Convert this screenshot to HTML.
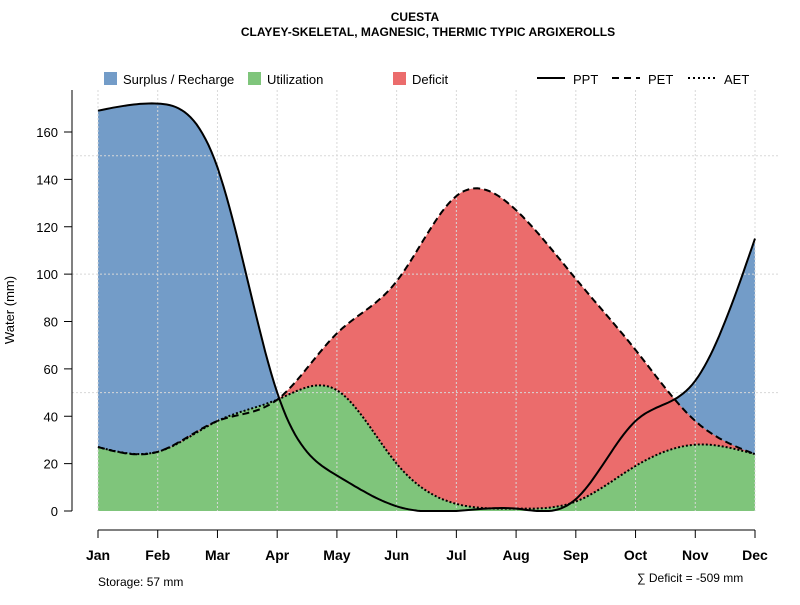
<!DOCTYPE html>
<html><head><meta charset="utf-8"><style>
body{margin:0;background:#fff;font-family:"Liberation Sans",sans-serif;}
svg text{font-family:"Liberation Sans",sans-serif;}
</style></head><body>
<svg id="c" width="800" height="600" xmlns="http://www.w3.org/2000/svg">
<text x="415" y="21" text-anchor="middle" font-size="12" font-weight="bold">CUESTA</text>
<text x="428" y="36" text-anchor="middle" font-size="12" font-weight="bold">CLAYEY-SKELETAL, MAGNESIC, THERMIC TYPIC ARGIXEROLLS</text>
<g id="plot"></g>
<g>
<rect x="104" y="72" width="13" height="13" fill="#739cc8"/>
<text x="123" y="84" font-size="13">Surplus / Recharge</text>
<rect x="248" y="72" width="13" height="13" fill="#7fc57b"/>
<text x="267" y="84" font-size="13">Utilization</text>
<rect x="393" y="72" width="13" height="13" fill="#eb6c6c"/>
<text x="412" y="84" font-size="13">Deficit</text>
<line x1="537" y1="78" x2="565" y2="78" stroke="#000" stroke-width="2"/>
<text x="573" y="84" font-size="13">PPT</text>
<line x1="612" y1="78" x2="640" y2="78" stroke="#000" stroke-width="2" stroke-dasharray="7,5"/>
<text x="648" y="84" font-size="13">PET</text>
<line x1="688" y1="78" x2="716" y2="78" stroke="#000" stroke-width="2" stroke-dasharray="2,3"/>
<text x="724" y="84" font-size="13">AET</text>
</g>
<text x="98" y="586" font-size="12">Storage: 57 mm</text>
<text x="637" y="582" font-size="12">∑ Deficit = -509 mm</text>
</svg>
<script>
const months=["Jan","Feb","Mar","Apr","May","Jun","Jul","Aug","Sep","Oct","Nov","Dec"];
const ppt=[169,172,145,50,15,2,0,1,5,38,55,115];
const pet=[27,25,38,47,75,97,133,127,98,68,38,24];
const aet=[27,25,38,47,51,20,3,1,4,19,28,24];
const yTicks=[0,20,40,60,80,100,120,140,160];
const yGrid=[50,100,150];
const NS="http://www.w3.org/2000/svg";
const x=i=>98+i*(755-98)/11;
const y=v=>511-v*(379/160);
const g=document.getElementById('plot');
function mk(t,a){const e=document.createElementNS(NS,t);for(const k in a)e.setAttribute(k,a[k]);g.appendChild(e);return e;}
function curve(vals){
 const n=vals.length;const M=new Array(n).fill(0);
 // natural cubic spline, unit spacing
 const a=[],b=[],c=[],d=[];
 for(let i=1;i<n-1;i++){a.push(1);b.push(4);c.push(1);d.push(6*(vals[i+1]-2*vals[i]+vals[i-1]));}
 const m=d.length;for(let i=1;i<m;i++){const w=a[i]/b[i-1];b[i]-=w*c[i-1];d[i]-=w*d[i-1];}
 const s=new Array(m);s[m-1]=d[m-1]/b[m-1];for(let i=m-2;i>=0;i--)s[i]=(d[i]-c[i]*s[i+1])/b[i];
 for(let i=0;i<m;i++)M[i+1]=s[i];
 const p=[];
 for(let i=0;i<n-1;i++){for(let k=0;k<20;k++){const t=k/20;const v=M[i]*Math.pow(1-t,3)/6+M[i+1]*Math.pow(t,3)/6+(vals[i]-M[i]/6)*(1-t)+(vals[i+1]-M[i+1]/6)*t;p.push([x(i+t),y(Math.max(v,0))]);}}
 p.push([x(n-1),y(vals[n-1])]);return p;}
const line=p=>p.map((q,i)=>(i?'L':'M')+q[0].toFixed(1)+','+q[1].toFixed(1)).join('');
const area=p=>line(p)+'L'+x(11)+','+y(0)+'L'+x(0)+','+y(0)+'Z';
const cP=curve(ppt),cE=curve(pet),cA=curve(aet);
let e;
e=mk('path',{d:area(cP),fill:'#739cc8'});

e=mk('path',{d:area(cE),fill:'#eb6c6c'});

e=mk('path',{d:area(cA),fill:'#7fc57b'});

months.forEach((m,i)=>{
 e=mk('line',{x1:x(i),x2:x(i),y1:90,y2:511,stroke:'#d8d8d8','stroke-dasharray':'2,2'});
 
 e=mk('line',{x1:x(i),x2:x(i),y1:530,y2:538,stroke:'#000'});
 
 e=mk('text',{x:x(i),y:560,'text-anchor':'middle','font-size':14,'font-weight':'bold'});e.textContent=m;
 
});
yGrid.forEach(v=>{e=mk('line',{x1:72,x2:780,y1:y(v),y2:y(v),stroke:'#d8d8d8','stroke-dasharray':'2,2'});
 });
e=mk('path',{d:line(cE),fill:'none',stroke:'#000','stroke-width':2,'stroke-dasharray':'7,4'});

e=mk('path',{d:line(cA),fill:'none',stroke:'#000','stroke-width':2,'stroke-dasharray':'2,2'});

e=mk('path',{d:line(cP),fill:'none',stroke:'#000','stroke-width':2});

e=mk('line',{x1:72,x2:72,y1:90,y2:511,stroke:'#000'});

e=mk('line',{x1:x(0),x2:x(11),y1:530,y2:530,stroke:'#000'});

yTicks.forEach(v=>{
 e=mk('line',{x1:64,x2:72,y1:y(v),y2:y(v),stroke:'#000'});
 
 e=mk('text',{x:58,y:y(v)+5,'text-anchor':'end','font-size':13});e.textContent=v;
 
});
e=mk('text',{x:14,y:310,'text-anchor':'middle','font-size':13,transform:'rotate(-90 14 310)'});e.textContent='Water (mm)';

</script>
</body></html>
